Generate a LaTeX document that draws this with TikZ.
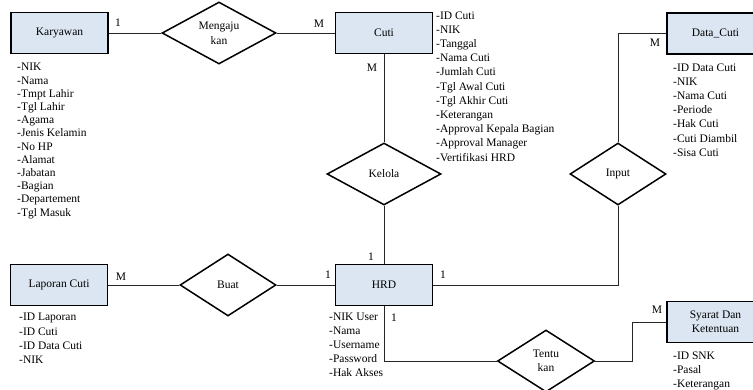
\documentclass[tikz,border=0pt]{standalone}
\usepackage{fontspec}
\setmainfont{Liberation Serif}
\usepackage{xcolor}
\usepackage{tikz}
\usetikzlibrary{shapes.geometric}
\definecolor{entfill}{RGB}{220,230,242}

\begin{document}
\begin{tikzpicture}[x=1pt, y=-1pt,
		entity/.style={draw, line width=1.5pt, fill=entfill, minimum width=97pt, minimum height=41pt, inner sep=2pt, align=center},
		relation/.style={draw, diamond, line width=1.5pt, fill=white, aspect=1.8, inner sep=0pt, align=center, minimum height=62pt},
		attr/.style={anchor=north west, inner sep=0pt, align=left},
		card/.style={inner sep=0pt},
		link/.style={line width=0.8pt, black!85}]
	\fontsize{11.5}{14}\selectfont
	\useasboundingbox (0,0) rectangle (753,390);
	% entities
	\node[entity] (karyawan) at (59.5,33) {Karyawan};
	\node[entity] (cuti) at (384,33) {Cuti};
	\node[entity] (datacuti) at (715.5,33.5) {Data\_Cuti};
	\node[entity] (laporan) at (59,285) {Laporan Cuti};
	\node[entity] (hrd) at (384,285) {HRD};
	\node[entity] (syarat) at (715.5,322) {Syarat Dan\\Ketentuan};
	% relations
	\node[relation, minimum width=114pt, font=\fontsize{11.5}{15}\selectfont] (ajukan) at (219,33) {Mengaju\\kan};
	\node[relation, minimum width=114pt] (kelola) at (384,174) {Kelola};
	\node[relation, minimum width=96pt] (input) at (618,174) {Input};
	\node[relation, minimum width=96pt] (buat) at (228,285) {Buat};
	\node[relation, minimum width=97pt] (tentukan) at (546,361) {Tentu\\kan};
	\coordinate (snkbend) at (632,0);
	% connectors
	\draw[link] (karyawan.east) -- (ajukan.west);
	\draw[link] (ajukan.east) -- (cuti.west);
	\draw[link] (cuti.south) -- (kelola.north);
	\draw[link] (kelola.south) -- (hrd.north);
	\draw[link] (laporan.east) -- (buat.west);
	\draw[link] (buat.east) -- (hrd.west);
	\draw[link] (hrd.east) -| (input.south);
	\draw[link] (input.north) |- (datacuti.west);
	\draw[link] (hrd.south) |- (tentukan.west);
	\draw[link] (tentukan.east) -- (tentukan.east -| snkbend) |- (syarat.west);
	% cardinalities
	\node[card] (kary1) at (118,23) {1};
	\node[card] (cutiM) at (319,24) {M};
	\node[card] (cutiM2) at (372,68) {M};
	\node[card] (dataM) at (655,43) {M};
	\node[card] (lapM) at (121,277) {M};
	\node[card] (hrd1t) at (371,257) {1};
	\node[card] (hrd1l) at (328,275) {1};
	\node[card] (hrd1r) at (443,275) {1};
	\node[card] (hrd1b) at (394,318) {1};
	\node[card] (snkM) at (657,310) {M};
	% attributes
	\node[attr, font=\fontsize{11.5}{13.2}\selectfont] (karyattr) at (17,63.2) {-NIK\\-Nama\\-Tmpt Lahir\\-Tgl Lahir\\-Agama\\-Jenis Kelamin\\-No HP\\-Alamat\\-Jabatan\\-Bagian\\-Departement\\-Tgl Masuk};
	\node[attr, font=\fontsize{11.5}{14.2}\selectfont] (cutiattr) at (436,11.2) {-ID Cuti\\-NIK\\-Tanggal\\-Nama Cuti\\-Jumlah Cuti\\-Tgl Awal Cuti\\-Tgl Akhir Cuti\\-Keterangan\\-Approval Kepala Bagian\\-Approval Manager\\-Vertifikasi HRD};
	\node[attr, font=\fontsize{11.5}{14.2}\selectfont] (dataattr) at (673,63.2) {-ID Data Cuti\\-NIK\\-Nama Cuti\\-Periode\\-Hak Cuti\\-Cuti Diambil\\-Sisa Cuti};
	\node[attr, font=\fontsize{11.5}{14.2}\selectfont] (lapattr) at (19,313.2) {-ID Laporan\\-ID Cuti\\-ID Data Cuti\\-NIK};
	\node[attr, font=\fontsize{11.5}{14}\selectfont] (hrdattr) at (329,313.2) {-NIK User\\-Nama\\-Username\\-Password\\-Hak Akses};
	\node[attr, font=\fontsize{11.5}{14}\selectfont] (snkattr) at (673,351.2) {-ID SNK\\-Pasal\\-Keterangan};
\end{tikzpicture}
\end{document}
